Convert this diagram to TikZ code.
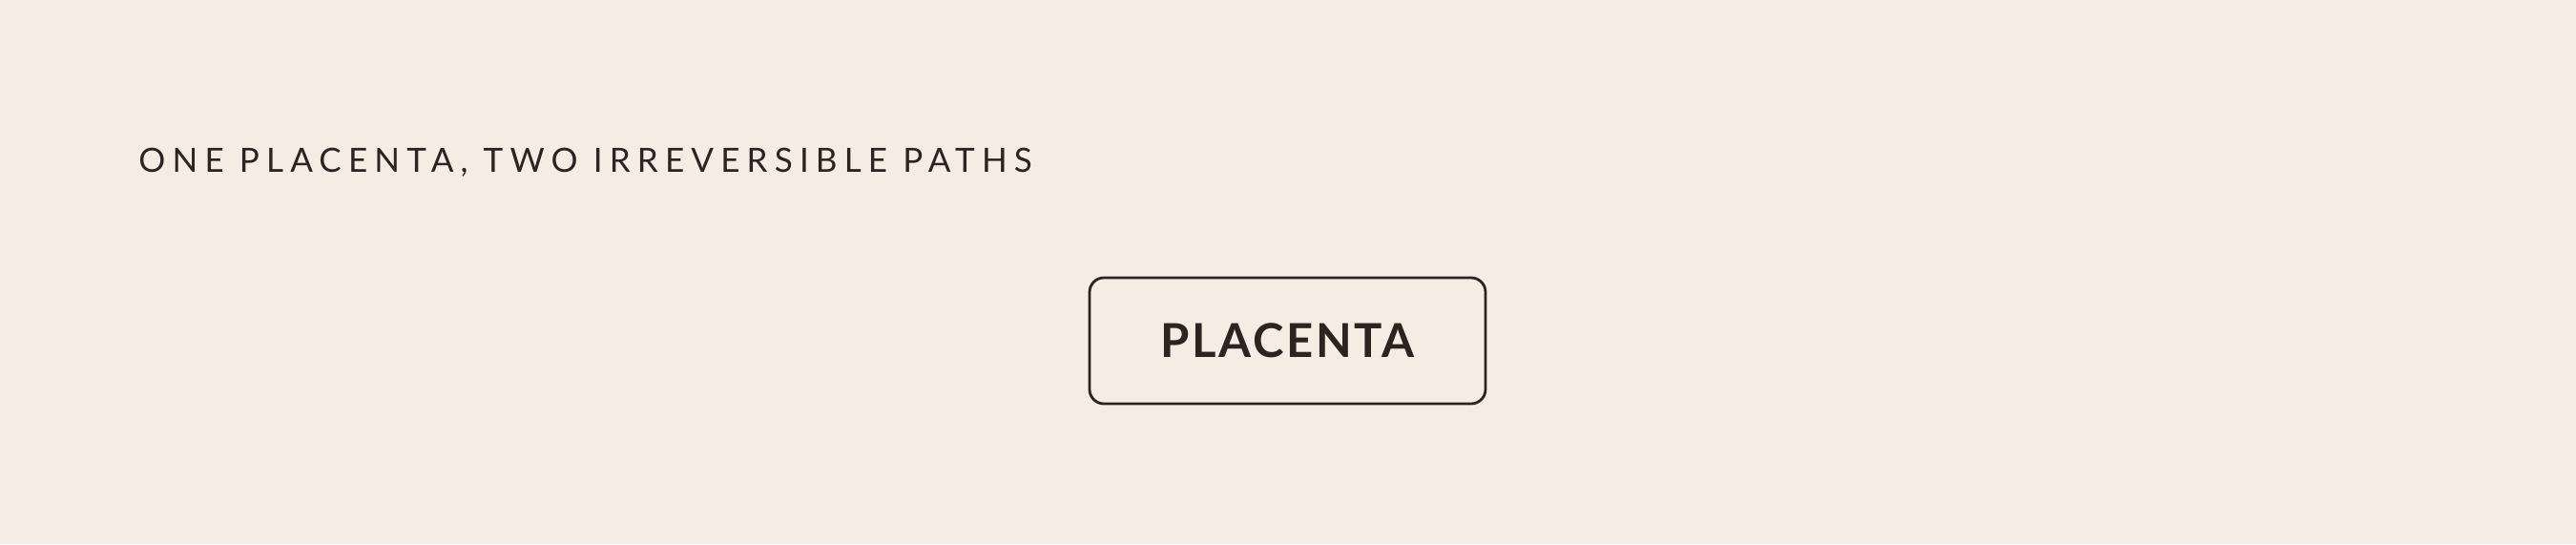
\documentclass[tikz,border=0pt]{standalone}
\usepackage{fontspec}
\setmainfont{Lato}
\newfontfamily\titlefont[LetterSpace=20.5]{Lato}
\newfontfamily\boxfont[LetterSpace=5.5]{Lato Bold}
\definecolor{bg}{HTML}{F5ECE3}
\definecolor{ink}{HTML}{2E2320}
\begin{document}
\begin{tikzpicture}[x=1pt,y=1pt,
  titletext/.style={anchor=base west,inner sep=0pt,text=ink,font=\titlefont\fontsize{17.5}{20}\selectfont},
  mainbox/.style={draw=ink,line width=1.4pt,rounded corners=7.5pt,minimum width=207.5pt,minimum height=66pt,inner sep=0pt,text height=17.5pt,text depth=0pt,text=ink,font=\boxfont\fontsize{24.5}{28}\selectfont}]
\fill[bg] (0,0) rectangle (1350,285);
\useasboundingbox (0,0) rectangle (1350,285);
\node[titletext] (title) at (72.5,195) {ONE PLACENTA, TWO IRREVERSIBLE PATHS};
\node[mainbox] (placenta) at (674.75,106.5) {PLACENTA};
\end{tikzpicture}
\end{document}
